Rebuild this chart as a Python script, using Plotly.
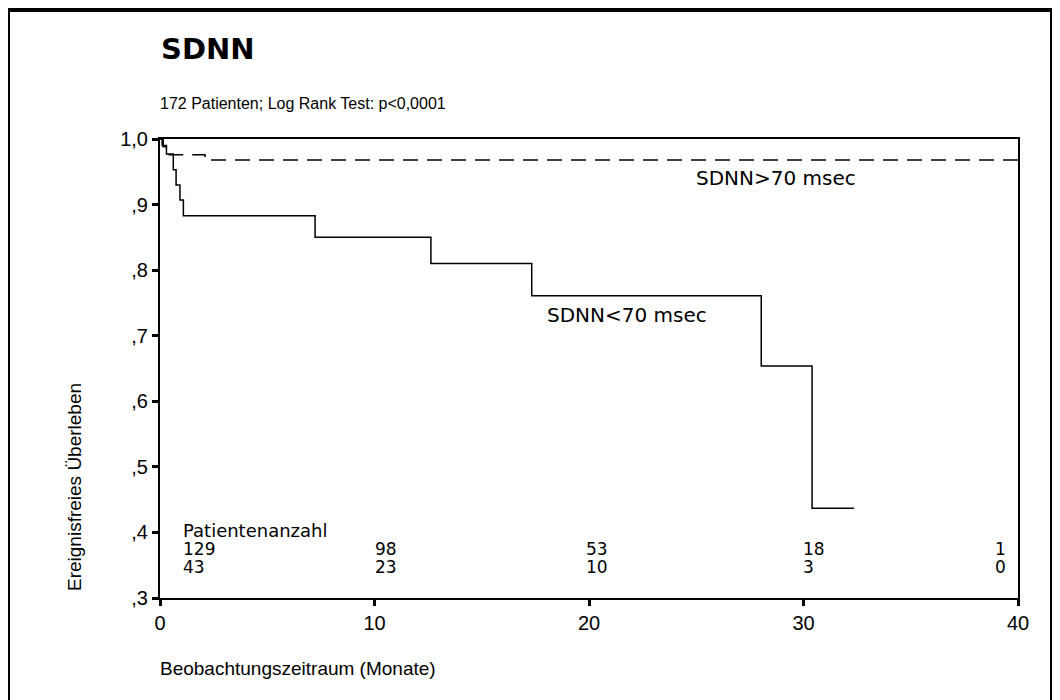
import plotly.graph_objects as go

# Kaplan-Meier step data (months, event-free survival)
t_high = [0.0, 0.15, 0.35, 2.1, 40.0]
s_high = [1.0, 0.988, 0.976, 0.968, 0.968]

t_low = [0.0, 0.1, 0.3, 0.62, 0.75, 0.93, 1.09, 7.23, 12.63, 17.33, 28.03, 30.4, 32.35]
s_low = [1.0, 0.99, 0.977, 0.953, 0.93, 0.907, 0.883, 0.850, 0.810, 0.761, 0.654, 0.437, 0.437]

# numbers at risk
risk_times = [0, 10, 20, 30, 40]
risk_high = [129, 98, 53, 18, 1]
risk_low = [43, 23, 10, 3, 0]

y_ticks = [0.3, 0.4, 0.5, 0.6, 0.7, 0.8, 0.9, 1.0]
y_ticklabels = [",3", ",4", ",5", ",6", ",7", ",8", ",9", "1,0"]
x_ticks = [0, 10, 20, 30, 40]

ARIAL = "Liberation Sans, Arial, sans-serif"
SANS = "DejaVu Sans, Verdana, sans-serif"

fig = go.Figure()
fig.add_trace(go.Scatter(x=t_high, y=s_high, mode="lines", line_shape="hv",
                         line=dict(color="black", width=1.5, dash="15px,9px"),
                         showlegend=False, hoverinfo="skip"))
fig.add_trace(go.Scatter(x=t_low, y=s_low, mode="lines", line_shape="hv",
                         line=dict(color="black", width=1.5),
                         showlegend=False, hoverinfo="skip"))

ann = []
ann.append(dict(x=24.9, y=0.9405, xref="x", yref="y", xanchor="left", yanchor="middle",
                text="SDNN>70 msec", showarrow=False, font=dict(family=SANS, size=20, color="black")))
ann.append(dict(x=17.97, y=0.732, xref="x", yref="y", xanchor="left", yanchor="middle",
                text="SDNN<70 msec", showarrow=False, font=dict(family=SANS, size=20, color="black")))
ann.append(dict(x=1.0, y=0.4035, xref="x", yref="y", xanchor="left", yanchor="middle",
                text="Patientenanzahl", showarrow=False, font=dict(family=SANS, size=18, color="black")))
xpos = [1.0, 9.95, 19.75, 29.9, 38.85]
for i, (t, a, b) in enumerate(zip(risk_times, risk_high, risk_low)):
    ann.append(dict(x=xpos[i], y=0.3745, xref="x", yref="y", xanchor="left", yanchor="middle",
                    text=str(a), showarrow=False, font=dict(family=SANS, size=17, color="black")))
    ann.append(dict(x=xpos[i], y=0.3470, xref="x", yref="y", xanchor="left", yanchor="middle",
                    text=str(b), showarrow=False, font=dict(family=SANS, size=17, color="black")))

# titles (offsets in pixels relative to the plot area corners)
ann.append(dict(x=0.0, y=1.0, xref="paper", yref="paper", xanchor="left", yanchor="middle",
                text="<b>SDNN</b>", showarrow=False, font=dict(family=SANS, size=29, color="black"),
                xshift=-1, yshift=139 - 49))
ann.append(dict(x=0.0, y=1.0, xref="paper", yref="paper", xanchor="left", yanchor="middle",
                text="172 Patienten; Log Rank Test: p<0,0001", showarrow=False,
                font=dict(family=ARIAL, size=16, color="black"), xshift=-2, yshift=139 - 103))
ann.append(dict(x=0.0, y=0.0, xref="paper", yref="paper", xanchor="left", yanchor="middle",
                text="Beobachtungszeitraum (Monate)", showarrow=False,
                font=dict(family=ARIAL, size=19, color="black"), xshift=-2, yshift=598 - 668))
ann.append(dict(x=0.0, y=0.0, xref="paper", yref="paper", xanchor="center", yanchor="middle",
                text="Ereignisfreies Überleben", showarrow=False, textangle=-90,
                font=dict(family=ARIAL, size=19, color="black"), xshift=74 - 160, yshift=598 - 487))

# the page body adds an 8px offset, so margins are reduced by 8px on left/top
fig.update_layout(
    width=1060, height=700,
    margin=dict(l=152, r=50, t=131, b=110),
    paper_bgcolor="white", plot_bgcolor="white",
    annotations=ann,
    shapes=[dict(type="rect", xref="paper", yref="paper",
                 x0=(8 - 160) / 858, x1=(1052 - 160) / 858,
                 y0=(598 - 720) / 459, y1=(598 - 10) / 459,
                 line=dict(color="black", width=4), fillcolor="rgba(0,0,0,0)", layer="above")],
    xaxis=dict(range=[0, 40], tickvals=x_ticks, ticktext=[str(v) for v in x_ticks],
               showgrid=False, zeroline=False, showline=True, linecolor="black", linewidth=2,
               mirror=True, ticks="outside", ticklen=6, tickwidth=3, tickcolor="black",
               tickfont=dict(family=ARIAL, size=20, color="black")),
    yaxis=dict(range=[0.3, 1.0], tickvals=y_ticks, ticktext=y_ticklabels,
               showgrid=False, zeroline=False, showline=True, linecolor="black", linewidth=2,
               mirror=True, ticks="outside", ticklen=6, tickwidth=3, tickcolor="black",
               tickfont=dict(family=ARIAL, size=20, color="black")),
)

fig.write_html("out.html")
